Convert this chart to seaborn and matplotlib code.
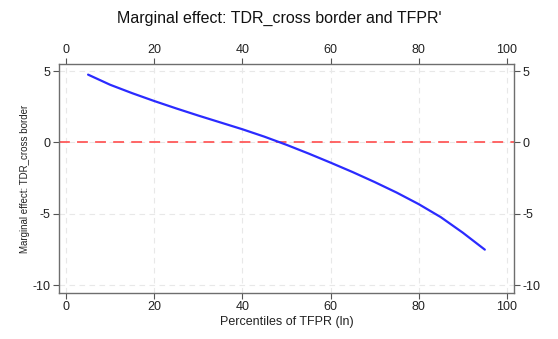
import matplotlib
matplotlib.use("Agg")
import matplotlib.pyplot as plt
import seaborn as sns
import pandas as pd

percentiles = [5, 10, 15, 20, 25, 30, 35, 40, 45, 50, 55, 60, 65, 70, 75, 80, 85, 90, 95]
effect = [4.75, 4.04, 3.45, 2.9, 2.38, 1.88, 1.4, 0.92, 0.4, -0.17, -0.78, -1.42,
          -2.08, -2.78, -3.52, -4.33, -5.24, -6.33, -7.52]
xticks = [0, 20, 40, 60, 80, 100]
yticks = [5, 0, -5, -10]

sns.set_theme(style="white")
plt.rcParams['font.family'] = ['Liberation Sans', 'DejaVu Sans']
plt.rcParams['axes.unicode_minus'] = False

df = pd.DataFrame({"pct": percentiles, "eff": effect})

fig = plt.figure(figsize=(5.58, 3.39), dpi=100)
ax = fig.add_axes([0.1057, 0.1357, 0.8153, 0.6753])

ax.grid(True, color="#e8e8e8", linestyle=(0, (5, 4)), linewidth=0.8)
ax.set_axisbelow(True)
ax.axhline(0, color="#ff5a5a", linestyle=(0, (6, 4)), linewidth=1.3, zorder=2)
sns.lineplot(data=df, x="pct", y="eff", ax=ax, color="#2b2bff", linewidth=1.6, zorder=3)

ax.set_xlim(-1.6, 101.6)
ax.set_ylim(-10.56, 5.49)
ax.set_xticks(xticks)
ax.set_yticks(yticks)
ax.tick_params(axis="both", which="both", top=True, right=True, labeltop=True,
               labelright=True, bottom=True, left=True, length=4, width=0.8,
               color="#555555", labelsize=9, labelcolor="#222222", pad=2)
for s in ax.spines.values():
    s.set_color("#6e6e6e")
    s.set_linewidth(1.0)

ax.set_xlabel("Percentiles of TFPR (ln)", fontsize=9, color="#222222", labelpad=2)
ax.set_ylabel("Marginal effect: TDR_cross border", fontsize=7, color="#222222", labelpad=2)
fig.text(0.5, 0.945, "Marginal effect: TDR_cross border and TFPR'", ha="center",
         va="center", fontsize=11.5, color="#111111")

fig.savefig("out.png", dpi=100, facecolor="white")
